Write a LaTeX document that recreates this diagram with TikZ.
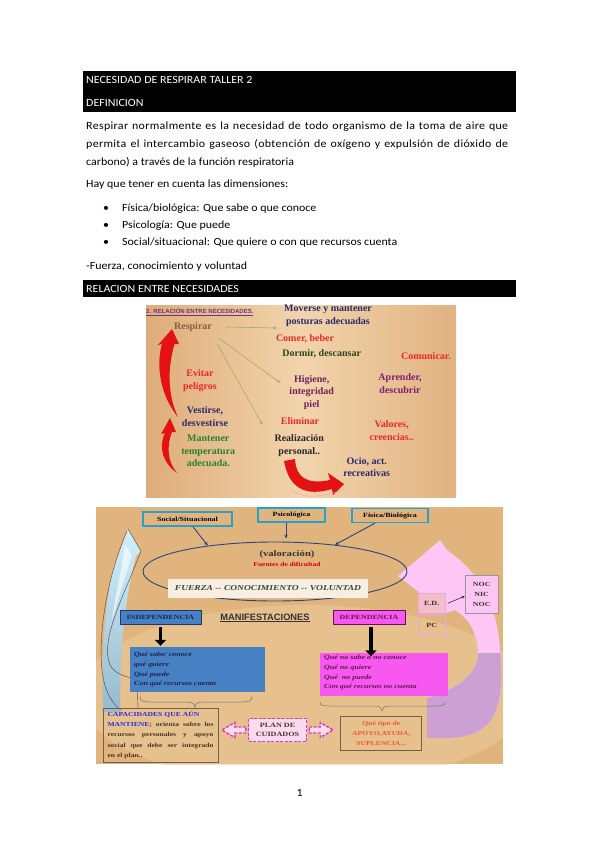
\documentclass[tikz,border=0pt]{standalone}
\usepackage{fontspec}
\setmainfont{Carlito}[FakeStretch=1.085]
\newfontfamily\tserif{Liberation Serif}
\newfontfamily\pserif[FakeStretch=1.25]{Liberation Serif}
\newfontfamily\psans{Liberation Sans}
\usetikzlibrary{arrows.meta,shapes.geometric,calc}

\definecolor{tanE}{RGB}{222,172,122}
\definecolor{tanM}{RGB}{242,212,172}
\definecolor{wood}{RGB}{224,180,124}
\definecolor{woodL}{RGB}{236,204,156}
\definecolor{cyb}{RGB}{40,160,205}
\definecolor{navyE}{RGB}{40,70,130}
\definecolor{olv}{RGB}{165,170,105}
\definecolor{swred}{RGB}{228,18,18}
\definecolor{brn}{RGB}{135,95,60}
\definecolor{navyT}{RGB}{40,40,110}
\definecolor{redT}{RGB}{238,40,40}
\definecolor{dgreen}{RGB}{45,70,30}
\definecolor{purT}{RGB}{110,35,90}
\definecolor{grnT}{RGB}{40,130,45}
\definecolor{ttl}{RGB}{110,50,130}
\definecolor{indb}{RGB}{72,128,196}
\definecolor{indtxt}{RGB}{25,35,75}
\definecolor{mag}{RGB}{246,88,240}
\definecolor{magtxt}{RGB}{100,20,80}
\definecolor{cream}{RGB}{246,239,226}
\definecolor{capblue}{RGB}{40,40,230}
\definecolor{capbrd}{RGB}{115,95,75}
\definecolor{captxt}{RGB}{70,55,40}
\definecolor{plnk}{RGB}{222,60,175}
\definecolor{plfill}{RGB}{250,218,238}
\definecolor{orng}{RGB}{240,85,55}
\definecolor{pinkA}{RGB}{253,198,245}
\definecolor{lavA}{RGB}{205,160,212}
\definecolor{pinkB}{RGB}{238,165,228}
\definecolor{lblue}{RGB}{208,240,252}
\definecolor{gblue}{RGB}{150,185,205}
\definecolor{olinec}{RGB}{95,75,60}
\definecolor{grayb}{RGB}{150,150,150}

\tikzset{
  body/.style={font=\fontsize{11}{13}\selectfont, inner sep=0pt, anchor=base west},
  bartext/.style={body, text=white},
  tp/.style={font=\tserif\bfseries\fontsize{10}{12.7}\selectfont, align=center, inner sep=0pt},
  bp/.style={font=\pserif\bfseries\fontsize{6.4}{9.7}\selectfont, inner sep=0pt},
  bpi/.style={font=\pserif\bfseries\itshape\fontsize{6.4}{9.7}\selectfont, inner sep=0pt, align=left, anchor=north west},
  cybox/.style={bp, draw=cyb, line width=1.3pt, fill=wood, minimum height=14pt},
  olvarr/.style={draw=olv, line width=0.6pt, -{Stealth[length=4pt,width=3pt]}},
  navarr/.style={draw=navyE, line width=0.9pt, -{Stealth[length=4pt,width=3.5pt]}},
  blkarr/.style={draw=black, line width=3.5pt, -{Triangle[length=6pt,width=11pt]}},
  brace/.style={draw=olinec!80, line width=0.5pt},
  thinline/.style={draw=olinec, line width=0.45pt},
  pinkbox/.style={bp, draw=pinkB, line width=1pt, minimum width=27pt, minimum height=20pt},
  dasharr/.style={draw=plnk, line width=1.4pt, dash pattern=on 3pt off 1.5pt, fill=plfill},
}

\begin{document}
\begin{tikzpicture}[x=1pt,y=-1pt]
\useasboundingbox (0,0) rectangle (599,848);
\fill[white] (0,0) rectangle (599,848);

% ---------- header bars and text ----------
\fill[black] (83,71) rectangle (516,112);
\node[bartext] (h1) at (86,84) {NECESIDAD DE RESPIRAR TALLER 2};
\node[bartext] (h2) at (86,107) {DEFINICION};

\node[body] (p1) at (86,129) {\addfontfeatures{LetterSpace=3}\makebox[422pt][s]{Respirar normalmente es la necesidad de todo organismo de la toma de aire que}};
\node[body] (p2) at (86,147) {\addfontfeatures{LetterSpace=3}\makebox[422pt][s]{permita el intercambio gaseoso (obtención de oxígeno y expulsión de dióxido de}};
\node[body] (p3) at (86,165) {carbono) a través de la función respiratoria};
\node[body] (p4) at (86,187) {Hay que tener en cuenta las dimensiones:};
\node[body] (b1) at (103,211) {•};
\node[body] (l1) at (122,211) {Física/biológica: Que sabe o que conoce};
\node[body] (b2) at (103,228) {•};
\node[body] (l2) at (122,228) {Psicología: Que puede};
\node[body] (b3) at (103,245) {•};
\node[body] (l3) at (122,245) {Social/situacional: Que quiere o con que recursos cuenta};
\node[body] (p5) at (86,269) {-Fuerza, conocimiento y voluntad};

\fill[black] (83,280) rectangle (516,297);
\node[bartext] (h3) at (86,292) {RELACION ENTRE NECESIDADES};

% ---------- top picture ----------
\shade[left color=tanE, right color=tanE!85!tanM, middle color=tanM] (146,305) rectangle (456,497);

\node[font=\psans\bfseries\fontsize{6}{7}\selectfont, text=ttl, anchor=west, inner sep=0pt] (ttl) at (146,311.7) {\underline{2. RELACIÓN ENTRE NECESIDADES.}};

\node[tp, text=brn] (resp) at (193,327) {Respirar};
\node[tp, text=navyT] (mov) at (328,316) {Moverse y mantener\\posturas adecuadas};
\node[tp, text=redT] (comer) at (305,339.3) {Comer, beber};
\node[tp, text=dgreen] (dormir) at (321.7,354.3) {Dormir, descansar};
\node[tp, text=redT] (comun) at (426,356) {Comunicar.};
\node[tp, text=redT] (evitar) at (200,380.7) {Evitar\\peligros};
\node[tp, text=purT] (hig) at (311.7,392.3) {Higiene,\\integridad\\piel};
\node[tp, text=purT!90!magenta] (apr) at (400,383.5) {Aprender,\\descubrir};
\node[tp, text=navyT] (vest) at (205,416.7) {Vestirse,\\desvestirse};
\node[tp, text=redT] (elim) at (300,421) {Eliminar};
\node[tp, text=redT] (valo) at (391.7,430.5) {Valores,\\creencias..};
\node[tp, text=grnT] (mant) at (208.3,451) {Mantener\\temperatura\\adecuada.};
\node[tp, text=black!85] (real) at (299.3,445.5) {Realización\\personal..};
\node[tp, text=navyT] (ocio) at (366.7,467) {Ocio, act.\\recreativas};

\coordinate (a1e) at (277,328);
\draw[olvarr] ([xshift=14pt]resp.east) -- (a1e);
\draw[olvarr] ([xshift=6pt,yshift=-6pt]resp.south east) -- ([xshift=-9pt,yshift=-8pt]hig.north west);
\draw[olvarr] ([xshift=5pt,yshift=-12pt]resp.south east) -- ([xshift=-18pt,yshift=-4pt]elim.west);

% red swooshes
\fill[swred] (172,329) -- (179,344) -- (174.5,344) .. controls (167,370) and (168,396) .. (178,417)
   .. controls (162,398) and (155,368) .. (162,344) -- (158,345) -- cycle;
\fill[swred] (170,418) -- (176,432) -- (172,432) .. controls (166,448) and (168,462) .. (177,473)
   .. controls (163,463) and (158,448) .. (165,433) -- (161,434) -- cycle;
\fill[swred] (284,461) -- (295,459) .. controls (296,477) and (306,485) .. (330,480) -- (328,473)
   -- (344,484) -- (333,495) -- (332,489) .. controls (305,497) and (289,488) .. (284,461) -- cycle;
\draw[swred!35, line width=0.5pt] (291,489) .. controls (300,499) and (322,498) .. (346,489);

% ---------- bottom picture ----------
\fill[wood] (96,507) rectangle (503,764);
\begin{scope}
  \clip (96,507) rectangle (503,764);
  \fill[woodL, opacity=0.55] (305,695) ellipse [x radius=225, y radius=90];
\end{scope}

% light blue arrow (left)
\shade[top color=lblue, middle color=lblue, bottom color=gblue]
  (128,529) -- (141,551) -- (136,556) .. controls (127,592) and (120,632) .. (120,712)
  -- (103,712) .. controls (101,655) and (105,600) .. (114,566) -- cycle;
\fill[white, opacity=0.6] (125,545) .. controls (120,580) and (114,600) .. (112,620)
  .. controls (118,600) and (124,580) .. (132,555) -- cycle;
\draw[thinline] (127,531) .. controls (108,575) and (98,630) .. (102,670) .. controls (104,690) and (112,704) .. (121,710);
\draw[thinline] (128,529) -- (141,551) .. controls (122,600) and (100,640) .. (110,665)
  .. controls (115,675) and (130,678) .. (137,679) -- (138,708);

% pink arrow (right)
\path[fill=pinkA] (398,576) -- (440,540) -- (447,550) .. controls (490,580) and (502,620) .. (501,680)
  .. controls (500,725) and (480,738) .. (445,738) -- (427,738) -- (427,698)
  .. controls (455,690) and (480,675) .. (478,650) .. controls (476,630) and (468,618) .. (455,610)
  -- (446,613) -- cycle;
\begin{scope}
  \clip (447,550) .. controls (490,580) and (502,620) .. (501,680)
  .. controls (500,725) and (480,738) .. (445,738) -- (427,738) -- (427,698)
  .. controls (455,690) and (480,675) .. (478,650) -- cycle;
  \fill[lavA] (420,653) rectangle (506,742);
\end{scope}

% top boxes and ellipse
\node[draw=navyE, line width=0.9pt, ellipse, minimum width=264pt, minimum height=59pt, inner sep=0pt] (ell) at (275,571.5) {};
\node[cybox, minimum width=89pt] (soc) at (187.5,519) {Social/Situacional};
\node[cybox, minimum width=67pt] (psi) at (291.5,515) {Psicológica};
\node[cybox, minimum width=76pt] (fis) at (390,515.5) {Física/Biológica};

\draw[navarr] ([xshift=5.5pt]soc.south) -- (ell.159);
\draw[navarr] ([xshift=-5.5pt]psi.south) -- ([xshift=11pt,yshift=3pt]ell.north);
\draw[navarr] ([xshift=-15pt]fis.south) -- (ell.24);

\node[bp, font=\pserif\bfseries\fontsize{8.5}{10}\selectfont, text=black!80] (valn) at (287,554.3) {(valoración)};
\node[bp, font=\pserif\bfseries\fontsize{6}{7}\selectfont, text=red!85!black] (fuen) at (287,564.3) {Fuentes de dificultad};
\node[fill=cream, minimum width=200pt, minimum height=19pt, inner sep=0pt,
      font=\pserif\bfseries\itshape\fontsize{7.6}{9}\selectfont, text=black!75] (fcv) at (268,588.5) {FUERZA -- CONOCIMIENTO -- VOLUNTAD};

% independencia / dependencia
\node[bp, draw=navyE!80!black, line width=0.6pt, fill=indb, text=indtxt, minimum width=81pt, minimum height=14pt] (indep) at (160.5,617) {INDEPENDENCIA};
\node[font=\psans\bfseries\fontsize{9.3}{11}\selectfont, text=black!80, inner sep=0pt] (manif) at (265,618) {\underline{MANIFESTACIONES}};
\node[bp, draw=magtxt, line width=0.6pt, fill=mag, text=magtxt, minimum width=72pt, minimum height=14pt] (dep) at (369,617) {DEPENDENCIA};

\node[fill=indb, minimum width=135pt, minimum height=45pt, inner sep=0pt] (bbox) at (197.5,669.5) {};
\node[bpi, text=indtxt] (btext) at (134,652) {Qué sabe/ conoce\\qué quiere\\Qué puede\\Con qué recursos cuenta};
\node[fill=mag, minimum width=128pt, minimum height=43pt, inner sep=0pt] (mbox) at (384,674) {};
\node[bpi, text=magtxt] (mtext) at (324,655) {Qué no sabe o no conoce\\Qué no quiere\\Qué\ \ no puede\\Con qué recursos no cuenta};

\draw[blkarr] ([yshift=-3pt]indep.south) -- ([yshift=1pt]indep.south |- bbox.north);
\draw[blkarr] ([xshift=2pt,yshift=-3pt]dep.south) -- ([xshift=2pt,yshift=-4pt]dep.south |- mbox.north);

% braces
\draw[brace] (140,696) .. controls (140,701) and (143,702) .. (150,702) -- (187,702)
  .. controls (193,702) and (195,704) .. (195,708) .. controls (195,704) and (197,702) .. (203,702)
  -- (242,702) .. controls (249,702) and (252,701) .. (252,696);
\draw[brace] (320,702) .. controls (320,705) and (322,706) .. (330,706) -- (375,706)
  .. controls (380,706) and (382,708) .. (382,711) .. controls (382,708) and (384,706) .. (389,706)
  -- (436,706) .. controls (443,706) and (445,705) .. (445,702);

% capacidades box
\node[draw=capbrd, line width=0.8pt, minimum width=115pt, minimum height=54pt, inner sep=0pt,
      text width=106pt, align=justify, font=\pserif\bfseries\fontsize{6.1}{10.4}\selectfont, text=captxt] (cap) at (160.5,735)
  {\textcolor{capblue}{CAPACIDADES QUE AÚN}\\\textcolor{capblue}{MANTIENE}; orienta sobre los\linebreak recursos personales y apoyo\linebreak social que debe ser integrado\linebreak en el plan..};

% plan de cuidados
\node[bp, dasharr, minimum width=58pt, minimum height=23pt, text=captxt, align=center, font=\pserif\bfseries\fontsize{6.5}{9}\selectfont] (plan) at (277.5,730) {PLAN DE\\CUIDADOS};
\draw[dasharr] ([xshift=-2pt]plan.west) ++(0,-3) -- ++(-11,0) -- ++(0,-4.5) -- ++(-13,7.5) -- ++(13,7.5) -- ++(0,-4.5) -- ++(11,0) -- cycle;
\draw[dasharr] ([xshift=2pt]plan.east) ++(0,-3) -- ++(11,0) -- ++(0,-4.5) -- ++(13,7.5) -- ++(-13,7.5) -- ++(0,-4.5) -- ++(-11,0) -- cycle;

% tipo de apoyo
\node[bp, draw=capbrd, line width=0.8pt, minimum width=81pt, minimum height=34pt, text=orng, align=center,
      font=\pserif\bfseries\fontsize{6.1}{10}\selectfont] (tipo) at (381.3,733.8) {Qué tipo de\\APOYO,AYUDA,\\SUPLENCIA...};

% E.D., PC, NOC box
\node[pinkbox, fill=pinkA!60!wood, text=black!80] (ed) at (431.7,603.3) {E.D.};
\node[pinkbox, text=black!80] (pc) at (431.7,625) {PC};
\node[bp, draw=grayb, line width=1pt, fill=pinkA, minimum width=33pt, minimum height=38pt, align=center,
      font=\pserif\bfseries\fontsize{6.3}{10}\selectfont, text=black!80] (noc) at (481.7,594.2) {NOC\\NIC\\NOC};
\draw[draw=black!80, line width=0.6pt, -{Stealth[length=3pt,width=3pt]}] ([xshift=2pt]ed.east) -- ([yshift=-2pt]noc.west);

% page number
\node[body] (pg) at (296.5,796) {1};
\end{tikzpicture}
\end{document}
